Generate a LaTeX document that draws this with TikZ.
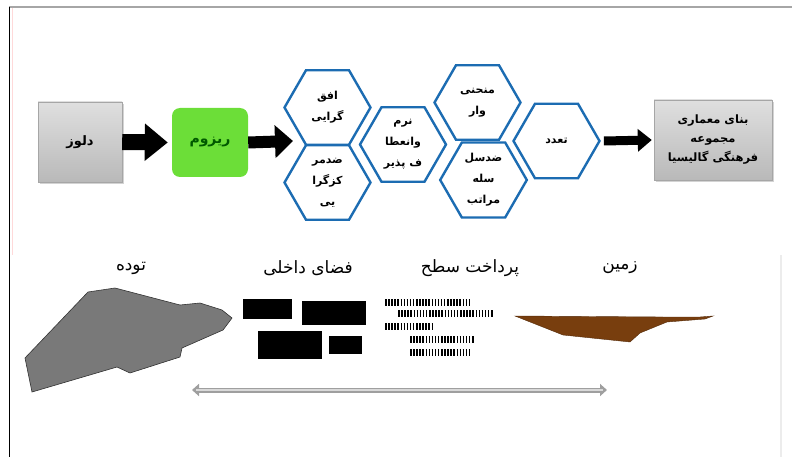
\documentclass[tikz,border=0pt]{standalone}
\usepackage{fontspec}
\usepackage{tikz}
\usetikzlibrary{shapes.geometric, arrows.meta, shadows}
\TeXXeTstate=1
\newfontfamily\arabicfont[Script=Arabic]{DejaVu Sans}
\newcommand{\fatxt}[1]{\beginR #1\endR}
\definecolor{hexBlue}{RGB}{28,108,178}
\definecolor{rhizGreen}{RGB}{108,222,56}
\definecolor{soilBrown}{RGB}{120,62,14}
\tikzstyle{fatArrow} = [-{Triangle[length=23pt,width=36pt]}, line width=16pt]
\tikzstyle{midArrow} = [-{Triangle[length=18pt,width=32pt]}, line width=12pt]
\tikzstyle{thinArrow} = [-{Triangle[length=14pt,width=22pt]}, line width=9pt]
\tikzstyle{greyBox} = [rectangle, minimum width=84pt, minimum height=80pt, top color=gray!25, bottom color=gray!55, draw=gray!70, drop shadow={opacity=0.35}, text centered, align=center]
\tikzstyle{greenBox} = [rectangle, rounded corners=8pt, minimum width=76pt, minimum height=69pt, fill=rhizGreen, text=black!65!green]
\tikzstyle{hexa} = [regular polygon, regular polygon sides=6, minimum size=86pt, inner sep=0pt, draw=hexBlue, line width=2.4pt, fill=white, align=center, font=\arabicfont\bfseries\fontsize{11}{21}\selectfont]
\tikzstyle{label} = [font=\arabicfont\fontsize{17}{19}\selectfont]

\begin{document}
\begin{tikzpicture}[x=1pt, y=-1pt]
		\useasboundingbox (0,0) rectangle (792,457);
		% frame
		\draw [gray!70, line width=1.5pt] (9,7) -- (792,7);
		\draw [black, line width=1pt] (9,7) -- (9,457);
		\draw [red!15, line width=1.5pt] (12.5,8) -- (12.5,255);
		\draw [gray!15, line width=1.5pt] (781,255) -- (781,457);
		% top row
		\node (dalouz) [greyBox, font=\arabicfont\bfseries\fontsize{13}{15}\selectfont] at (80,142) {\fatxt{دلوز}};
		\node (rhizome) [greenBox, font=\arabicfont\bfseries\fontsize{14}{16}\selectfont] at (210,142.5) {\fatxt{ریزوم}};
		\node (ofoq) [hexa] at (327.5,107.5) {\fatxt{افق}\\\fatxt{گرایی}};
		\node (zedmarkaz) [hexa] at (327.5,182.5) {\fatxt{ضدمر}\\\fatxt{کزگرا}\\\fatxt{یی}};
		\node (narm) [hexa] at (403,144.5) {\fatxt{نرم}\\\fatxt{وانعطا}\\\fatxt{ف پذیر}};
		\node (monhani) [hexa] at (477.5,102.5) {\fatxt{منحنی}\\\fatxt{وار}};
		\node (zedselsele) [hexa] at (483.5,180) {\fatxt{ضدسل}\\\fatxt{سله}\\\fatxt{مراتب}};
		\node (taadod) [hexa] at (556.5,141) {\fatxt{تعدد}};
		\node (bana) [greyBox, minimum width=118pt, font=\arabicfont\bfseries\fontsize{11.5}{19}\selectfont] at (713,140) {\fatxt{بنای معماری}\\\fatxt{مجموعه}\\\fatxt{فرهنگی گالیسیا}};
		\coordinate (hexIn) at (293,141);
		\draw [fatArrow] (dalouz.east) -- ([xshift=-4pt]rhizome.west);
		\draw [midArrow] (rhizome.east) -- (hexIn);
		\draw [thinArrow] ([xshift=3pt]taadod.east) -- ([xshift=-2pt]bana.west);
		% bottom row labels
		\node (tudeh) [label] at (131,268) {\fatxt{توده}};
		\node (fazaa) [label] at (308,268) {\fatxt{فضای داخلی}};
		\node (pardakht) [label] at (470,268) {\fatxt{پرداخت سطح}};
		\node (zamin) [label] at (620,268) {\fatxt{زمین}};
		% mass
		\filldraw [fill=gray!95!black, draw=gray!40!black, line width=0.6pt] (25,358) -- (88,292) -- (115,288) -- (180,305) -- (200,303) -- (222,310) -- (232,318) -- (223,330) -- (182,348) -- (180,357) -- (130,373) -- (117,367) -- (32,392) -- cycle;
		% interior space
		\fill [black] (243,299) rectangle (292,319);
		\fill [black] (302,301) rectangle (366,325);
		\fill [black] (258,331) rectangle (322,359);
		\fill [black] (329,336) rectangle (362,354);
		% surface finish
		\foreach \xa/\xb/\yy in {385/469/302, 398/493/313, 385/432/326, 410/475/339, 410/470/352}
			\draw [black, line width=7pt, dash pattern=on 1.5pt off 1.6pt] (\xa,\yy) -- (\xb,\yy);
		% ground
		\filldraw [fill=soilBrown, draw=soilBrown!70!black, line width=0.4pt] (515,316) -- (663,317) -- (700,317) -- (713,316) -- (705,319) -- (667,322) -- (640,333) -- (630,342) -- (563,335) -- cycle;
		% double arrow
		\coordinate (leftEnd) at (192,390);
		\coordinate (rightEnd) at (607,390);
		\draw [gray!75, line width=5pt, {Triangle[length=7pt,width=12pt]}-{Triangle[length=7pt,width=12pt]}] (leftEnd) -- (rightEnd);
		\draw [gray!30, line width=2pt, shorten <=4pt, shorten >=4pt] (leftEnd) -- (rightEnd);
	\end{tikzpicture}
\end{document}
